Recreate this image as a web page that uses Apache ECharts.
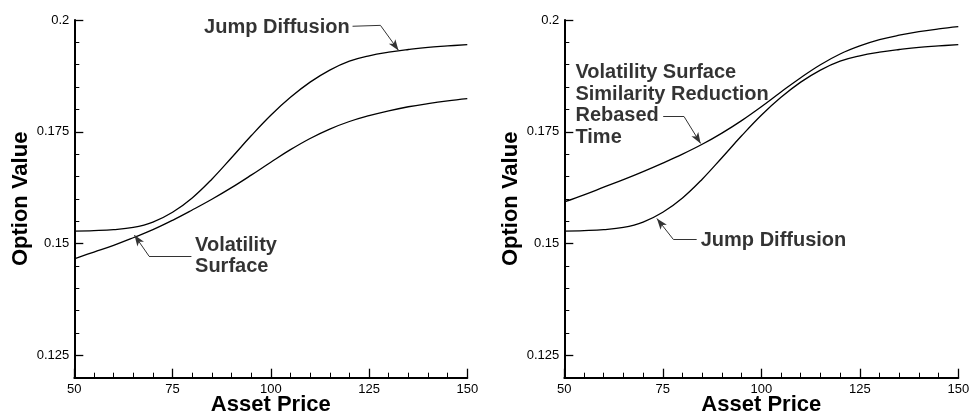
<!DOCTYPE html>
<html>
<head>
<meta charset="utf-8">
<script src="https://cdn.jsdelivr.net/npm/echarts@6/dist/echarts.min.js"></script>
<style>
html,body{margin:0;padding:0;background:#fff;}
#chart{width:970px;height:414px;}
</style>
</head>
<body>
<div id="chart"></div>
<script>
// ---- data ----
const assetPrice = [50,55,60,65,70,75,80,85,90,95,100,105,110,115,120,125,130,135,140,145,150];
const jumpDiffusion = [0.1528,0.1529,0.1531,0.1536,0.1548,0.1570,0.1602,0.1644,0.1692,0.1741,0.1787,0.1827,0.1861,0.1888,0.1908,0.1920,0.1928,0.1934,0.1939,0.1942,0.1945];
const volSurface = [0.1466,0.1481,0.1496,0.1513,0.1531,0.1552,0.1575,0.1599,0.1625,0.1653,0.1682,0.1710,0.1735,0.1756,0.1773,0.1786,0.1797,0.1806,0.1813,0.1819,0.1824];
const volSurfaceRebased = [0.1593,0.1609,0.1626,0.1643,0.1661,0.1680,0.1700,0.1722,0.1747,0.1775,0.1806,0.1839,0.1871,0.1900,0.1924,0.1942,0.1956,0.1966,0.1974,0.1980,0.1985];
const yMajorTicks = [0.125,0.15,0.175,0.2];
const leftLabels = [[82.9,0.1984,'Jump Diffusion'],[80.6,0.1472,'Volatility\nSurface']];
const rightLabels = [[52.7,0.1810,'Volatility Surface\nSimilarity Reduction\nRebased\nTime'],[84.5,0.1508,'Jump Diffusion']];
const leaderLeftJD = [[120.8,0.1986],[127.9,0.1988],[132.5,0.1932]];
const leaderLeftVS = [[79.8,0.1472],[69.0,0.1472],[65.3,0.1519]];
const leaderRightVS = [[75.1,0.1784],[80.4,0.1784],[84.6,0.1724]];
const leaderRightJD = [[83.6,0.1509],[77.7,0.1509],[73.5,0.1556]];

const FONT = 'Liberation Sans, Arial, sans-serif';
const pairs = (xs, ys) => xs.map((x,i)=>[x, ys[i]]);

function leader(pts){
  return [
    [{coord:pts[0], symbol:'none'},{coord:pts[1], symbol:'none'}],
    [{coord:pts[1], symbol:'none'},{coord:pts[2], symbol:'arrow', symbolSize:[6,11]}]
  ];
}

const grids = [
  {left:74.3, top:20, width:393, height:357.7, containLabel:false, outerBoundsMode:'none'},
  {left:564.3, top:20, width:394, height:357.7, containLabel:false, outerBoundsMode:'none'}
];

function xAxisFor(gi){
  return {
    gridIndex:gi, type:'value', min:50, max:150, interval:25,
    name:'Asset Price', nameLocation:'middle', nameGap:16, nameMoveOverlap:false,
    nameTextStyle:{fontFamily:FONT, fontSize:22, fontWeight:'bold', color:'#000'},
    axisLine:{show:true, onZero:false, lineStyle:{color:'#000', width:2}},
    axisTick:{show:true, inside:true, length:9, lineStyle:{color:'#000', width:1.3}},
    minorTick:{show:true, splitNumber:5, length:5, lineStyle:{color:'#000', width:1}},
    axisLabel:{fontFamily:FONT, fontSize:13, color:'#000', margin:5},
    splitLine:{show:false}, minorSplitLine:{show:false}
  };
}
function yAxesFor(gi){
  return [
    { // minor ticks
      gridIndex:gi, type:'value', min:0.12, max:0.2, interval:0.005,
      axisLine:{show:true, onZero:false, lineStyle:{color:'#000', width:2}},
      axisTick:{show:true, inside:true, length:5, lineStyle:{color:'#000', width:1}},
      axisLabel:{show:false}, splitLine:{show:false}
    },
    { // major ticks + labels + name
      gridIndex:gi, type:'value', min:0.12, max:0.2, position:'left',
      name:'Option Value', nameLocation:'middle', nameGap:42, nameMoveOverlap:false,
      nameTextStyle:{fontFamily:FONT, fontSize:22, fontWeight:'bold', color:'#000'},
      axisLine:{show:false},
      axisTick:{show:true, inside:true, length:9, customValues:yMajorTicks, lineStyle:{color:'#000', width:1.3}},
      axisLabel:{show:true, customValues:yMajorTicks, fontFamily:FONT, fontSize:13, color:'#000', margin:5},
      splitLine:{show:false}
    }
  ];
}

function curve(xi, yi, ys, leaders){
  const s = {
    type:'line', xAxisIndex:xi, yAxisIndex:yi, data:pairs(assetPrice, ys),
    smooth:0.4, showSymbol:false, symbol:'none',
    lineStyle:{color:'#000', width:1.3}, silent:true
  };
  if (leaders){
    s.markLine = {
      silent:true, symbol:['none','none'], label:{show:false},
      lineStyle:{color:'#333', width:1, type:'solid'},
      emphasis:{disabled:true},
      data: leaders.flatMap(leader)
    };
  }
  return s;
}
function labels(xi, yi, data){
  return {
    type:'scatter', xAxisIndex:xi, yAxisIndex:yi, data:data,
    symbolSize:1, itemStyle:{color:'rgba(0,0,0,0)'}, silent:true,
    label:{show:true, position:'right', distance:0, formatter:p=>p.data[2],
      fontFamily:FONT, fontSize:20, fontWeight:'bold', color:'#000', lineHeight:21.5, align:'left'}
  };
}

const yA = yAxesFor(0).concat(yAxesFor(1));
const option = {
  animation:false,
  backgroundColor:'#fff',
  grid:grids,
  xAxis:[xAxisFor(0), xAxisFor(1)],
  yAxis:yA,
  series:[
    curve(0,0,jumpDiffusion,[leaderLeftJD]),
    curve(0,0,volSurface,[leaderLeftVS]),
    labels(0,0,leftLabels),
    curve(1,2,jumpDiffusion,[leaderRightJD]),
    curve(1,2,volSurfaceRebased,[leaderRightVS]),
    labels(1,2,rightLabels)
  ]
};
const chart = echarts.init(document.getElementById('chart'), null, {renderer:'canvas'});
chart.setOption(option);
</script>
</body>
</html>
